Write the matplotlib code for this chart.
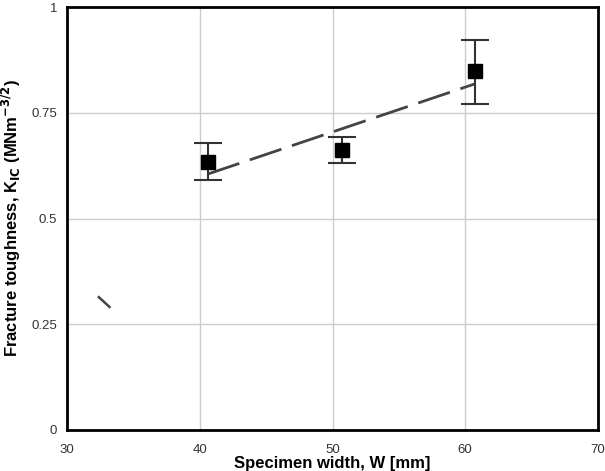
import matplotlib.pyplot as plt
import numpy as np

# specimen width vs fracture toughness
width = [40.6, 50.7, 60.7]
k_ic = [0.634, 0.662, 0.849]
err_low = [0.043, 0.031, 0.078]
err_high = [0.044, 0.031, 0.073]

# fitted trend (dashed)
fit_x = [40.6, 60.7]
fit_y = [0.605, 0.818]

# stray dash near the left edge
stray_x = [32.4, 33.2]
stray_y = [0.314, 0.291]

plt.rcParams["font.family"] = "Liberation Sans"

fig = plt.figure(figsize=(6.05, 4.71), dpi=100)
ax = fig.add_axes([67 / 605, 41 / 471, 531 / 605, 423 / 471])

ax.errorbar(width, k_ic, yerr=[err_low, err_high], fmt="s", color="black",
            ecolor="#333333", elinewidth=1.5, capsize=10, capthick=1.5,
            markersize=10, zorder=3)
ax.plot(fit_x, fit_y, linestyle=(0, (12, 4)), color="#444444", linewidth=2, zorder=2)
ax.plot(stray_x, stray_y, color="#444444", linewidth=1.8)

ax.set_xlim(30, 70)
ax.set_ylim(0, 1)
ax.set_xticks([30, 40, 50, 60, 70])
ax.set_yticks([0, 0.25, 0.5, 0.75, 1])
ax.set_yticklabels(["0", "0.25", "0.5", "0.75", "1"])
ax.tick_params(length=0, labelsize=9.5, labelcolor="#333333")
ax.tick_params(axis="x", pad=10)
ax.tick_params(axis="y", pad=7)
ax.grid(True, color="#cccccc", linewidth=1)
ax.set_axisbelow(True)
for s in ax.spines.values():
    s.set_linewidth(2)

ax.set_xlabel("Specimen width, W [mm]", fontsize=12, fontweight="bold", labelpad=0)
ax.set_ylabel(r"Fracture toughness, K$_{\mathbf{IC}}$ (MNm$^{\mathbf{-3/2}}$)",
              fontsize=12, fontweight="bold", labelpad=6)

fig.savefig("out.png", dpi=100)
